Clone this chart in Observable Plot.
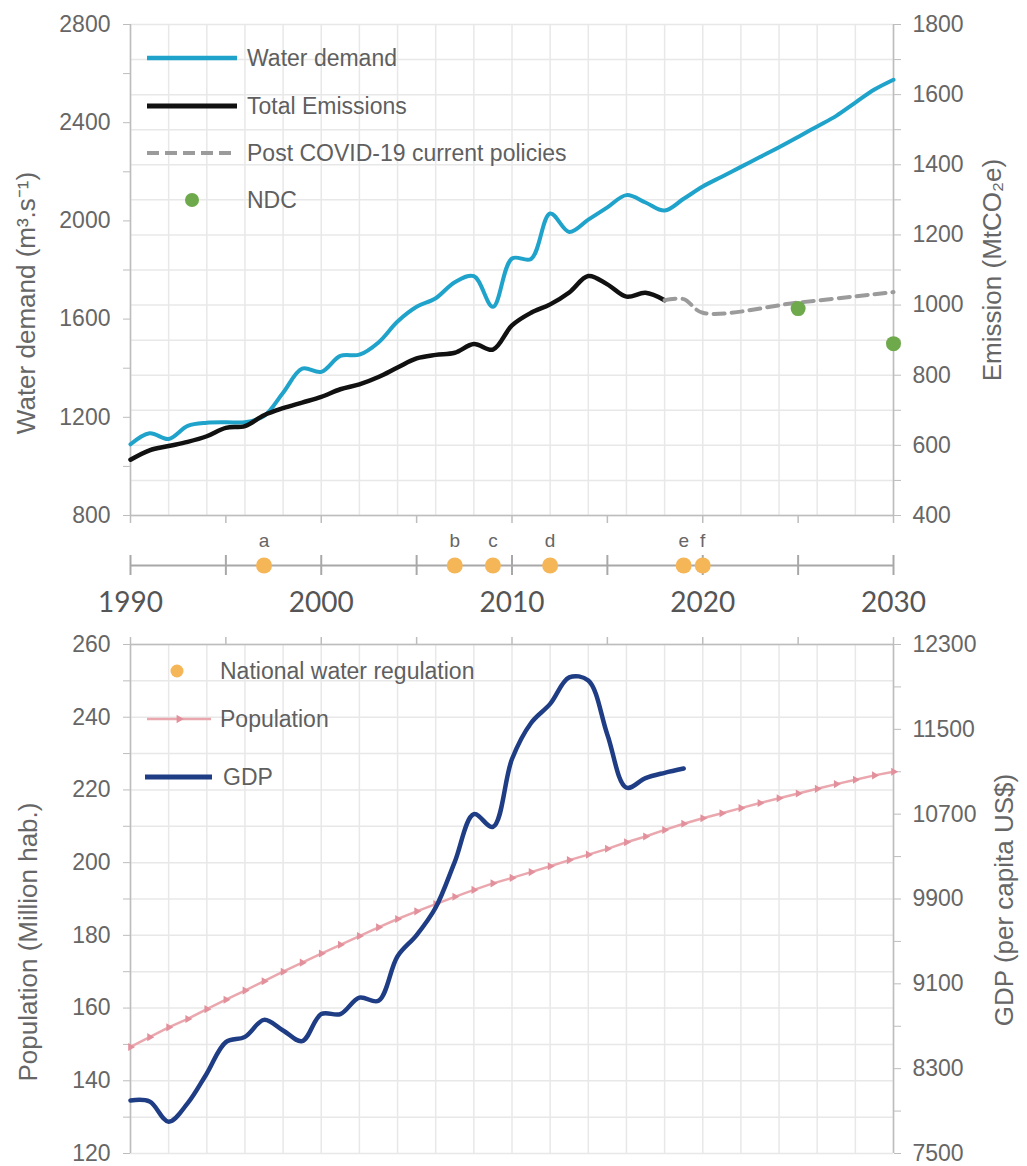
<!DOCTYPE html>
<html>
<head>
<meta charset="utf-8">
<title>Water demand, emissions, population and GDP, 1990–2030</title>
<script src="https://cdn.jsdelivr.net/npm/d3@7"></script>
<script src="https://cdn.jsdelivr.net/npm/@observablehq/plot@0.6"></script>
<style>
  html, body { margin: 0; background: #fff; }
  #chart { width: 1027px; height: 1166px; position: relative; overflow: hidden; }
  .panel { position: relative; }
  .panel > svg { display: block; }
  .panel > svg.legend { position: absolute; left: 0; top: 0; pointer-events: none; }
</style>
</head>
<body>
<div id="chart"></div>
<script>
// ---------- data ----------
const waterYears = d3.range(1990, 2031);
const waterDemand = [
  1090, 1135, 1112, 1165, 1178, 1180, 1180, 1205, 1300, 1398,
  1385, 1450, 1455, 1505, 1590, 1650, 1685, 1750, 1775, 1650,
  1847, 1845, 2030, 1955, 2005, 2055, 2105, 2075, 2042, 2090,
  2140, 2180, 2220, 2260, 2300, 2342, 2385, 2428, 2482, 2535, 2575
];

const emissionYears = d3.range(1990, 2019);
const totalEmissions = [
  559, 586, 598, 610, 626, 650, 655, 686, 706, 722,
  738, 760, 774, 795, 822, 848, 858, 864, 889, 873,
  942, 978, 1002, 1036, 1083, 1059, 1024, 1035, 1014
];

const policyYears = [2018, 2019, 2020, 2025, 2030];
const policyEmissions = [1014, 1017, 978, 1007, 1037];

const ndcYears = [2025, 2030];
const ndcEmissions = [990, 890];

const regulationYears = [1997, 2007, 2009, 2012, 2019, 2020];
const regulationLabels = ["a", "b", "c", "d", "e", "f"];

const populationYears = d3.range(1990, 2031);
const population = [
  149.3, 152.0, 154.7, 157.0, 159.7, 162.3, 164.8, 167.4, 170.0, 172.5,
  175.0, 177.4, 179.8, 182.2, 184.5, 186.6, 188.6, 190.6, 192.5, 194.3,
  195.8, 197.4, 199.0, 200.7, 202.2, 203.8, 205.6, 207.2, 209.0, 210.7,
  212.2, 213.6, 215.0, 216.4, 217.7, 219.0, 220.3, 221.6, 222.8, 224.0, 225.0
];

const gdpYears = d3.range(1990, 2020);
const gdpPerCapita = [
  8000, 7990, 7800, 7975, 8255, 8550, 8600, 8760, 8660, 8560,
  8815, 8815, 8970, 8940, 9360, 9560, 9820, 10250, 10700, 10580,
  11220, 11560, 11740, 11990, 11960, 11450, 10950, 11040, 11090, 11130
];

// axis ticks
const xDomain = [1990, 2030];
const waterDomain = [800, 2800];
const emissionDomain = [400, 1800];
const populationDomain = [120, 260];
const gdpDomain = [7500, 12300];
const waterTicks = d3.range(800, 2801, 200);
const emissionTicks = d3.range(400, 1801, 100);
const populationTicks = d3.range(120, 261, 10);
const gdpTicks = d3.range(7500, 12301, 400);
const fiveYearTicks = d3.range(1990, 2031, 5);
const gridYears = d3.range(1990, 2031, 2);
const decadeLabels = [1990, 2000, 2010, 2020, 2030];

// ---------- tables ----------
const water = waterYears.map((year, i) => ({year, value: waterDemand[i]}));
const emissions = emissionYears.map((year, i) => ({year, value: totalEmissions[i]}));
const policy = policyYears.map((year, i) => ({year, value: policyEmissions[i]}));
const ndc = ndcYears.map((year, i) => ({year, value: ndcEmissions[i]}));
const regulations = regulationYears.map((year, i) => ({year, label: regulationLabels[i]}));
const pop = populationYears.map((year, i) => ({year, value: population[i]}));
const gdp = gdpYears.map((year, i) => ({year, value: gdpPerCapita[i]}));

// secondary axes share the primary y scale through linear maps
const emissionToWater = d3.scaleLinear(emissionDomain, waterDomain);
const gdpToPopulation = d3.scaleLinear(gdpDomain, populationDomain);

// ---------- styling ----------
const W = 1027, ML = 130, MR = 134;
const FONT = '"Liberation Sans", Arial, Helvetica, sans-serif';
const GRID = "#e8e8e8", AXIS = "#bdbdbd", TEXT = "#666666", LEGEND_TEXT = "#5f5f5f";
const BLUE = "#1fa3cb", BLACK = "#111111", GRAY = "#9b9b9b", GREEN = "#6ea94c";
const ORANGE = "#f5b658", PINK = "#eaa7ae", PINK_MARK = "#e2919c", NAVY = "#1f3d85";
const TITLE_SIZE = 26;
const baseStyle = {fontFamily: FONT, fontSize: "23px", color: TEXT, background: "transparent", overflow: "visible"};

const chart = document.getElementById("chart");
function panel() {
  const div = document.createElement("div");
  div.className = "panel";
  chart.appendChild(div);
  return div;
}

function drawLegend(container, height, items) {
  const svg = d3.select(container).append("svg")
    .attr("class", "legend").attr("width", W).attr("height", height);
  for (const it of items) {
    const g = svg.append("g");
    if (it.kind === "line") {
      g.append("line")
        .attr("x1", it.x1).attr("x2", it.x2).attr("y1", it.y).attr("y2", it.y)
        .attr("stroke", it.color).attr("stroke-width", it.width)
        .attr("stroke-dasharray", it.dash || null);
      if (it.marker) {
        g.append("path")
          .attr("d", d3.symbol(d3.symbolTriangle, 30)())
          .attr("transform", `translate(${(it.x1 + it.x2) / 2},${it.y}) rotate(90)`)
          .attr("fill", it.marker);
      }
    } else {
      g.append("circle").attr("cx", it.cx).attr("cy", it.y).attr("r", it.r).attr("fill", it.color);
    }
    g.append("text")
      .attr("x", it.textX).attr("y", it.y).attr("dy", "0.36em")
      .attr("font-family", FONT).attr("font-size", 23).attr("fill", LEGEND_TEXT)
      .text(it.label);
  }
}

// ---------- upper panel: water demand & emissions ----------
const upper = panel();
upper.appendChild(Plot.plot({
  width: W, height: 525,
  marginLeft: ML, marginRight: MR, marginTop: 24, marginBottom: 10,
  style: baseStyle,
  x: {domain: xDomain, axis: null},
  y: {domain: waterDomain, axis: null},
  marks: [
    Plot.gridX(gridYears, {stroke: GRID, strokeOpacity: 1, strokeWidth: 1.5}),
    Plot.gridY(emissionTicks.map(emissionToWater), {stroke: GRID, strokeOpacity: 1, strokeWidth: 1.5}),
    Plot.ruleX(xDomain, {stroke: AXIS, strokeWidth: 1.5}),
    Plot.ruleY([waterDomain[0]], {stroke: AXIS, strokeWidth: 1.5}),
    Plot.axisX(fiveYearTicks, {anchor: "bottom", tickSize: 8, tickFormat: () => "", stroke: AXIS, strokeWidth: 1.5, label: null}),
    Plot.axisY(waterTicks, {
      anchor: "left", tickSize: 7, tickPadding: 13, stroke: AXIS, fill: TEXT, label: null,
      tickFormat: d => d % 400 === 0 ? String(d) : ""
    }),
    Plot.axisY(emissionTicks.map(emissionToWater), {
      anchor: "right", tickSize: 7, tickPadding: 12, stroke: AXIS, fill: TEXT, label: null,
      tickFormat: d => { const e = Math.round(emissionToWater.invert(d)); return e % 200 === 0 ? String(e) : ""; }
    }),
    Plot.text(["Water demand (m³.s⁻¹)"], {frameAnchor: "left", textAnchor: "middle", dx: -104, dy: 33, rotate: -90, fontSize: TITLE_SIZE, fill: TEXT}),
    Plot.text(["Emission (MtCO₂e)"], {frameAnchor: "right", textAnchor: "middle", dx: 99, dy: 0, rotate: -90, fontSize: TITLE_SIZE, fill: TEXT}),
    Plot.line(water, {x: "year", y: "value", stroke: BLUE, strokeWidth: 4, curve: "catmull-rom"}),
    Plot.line(emissions, {x: "year", y: d => emissionToWater(d.value), stroke: BLACK, strokeWidth: 4.5, curve: "catmull-rom"}),
    Plot.line(policy, {x: "year", y: d => emissionToWater(d.value), stroke: GRAY, strokeWidth: 4, strokeDasharray: "11,7", curve: "catmull-rom"}),
    Plot.dot(ndc, {x: "year", y: d => emissionToWater(d.value), r: 7.5, fill: GREEN})
  ]
}));
drawLegend(upper, 525, [
  {kind: "line", x1: 147, x2: 237, y: 58, color: BLUE, width: 4.5, textX: 247, label: "Water demand"},
  {kind: "line", x1: 147, x2: 237, y: 106, color: BLACK, width: 5, textX: 247, label: "Total Emissions"},
  {kind: "line", x1: 147, x2: 237, y: 153, color: GRAY, width: 4, dash: "12,6", textX: 247, label: "Post COVID-19 current policies"},
  {kind: "dot", cx: 192, y: 200, r: 7, color: GREEN, textX: 247, label: "NDC"}
]);

// ---------- timeline of national water regulations ----------
const timeline = panel();
timeline.appendChild(Plot.plot({
  width: W, height: 100,
  marginLeft: ML, marginRight: MR, marginTop: 30, marginBottom: 50,
  style: baseStyle,
  x: {domain: xDomain, axis: null},
  y: {domain: [0, 1], axis: null},
  marks: [
    Plot.ruleY([0.5], {x1: xDomain[0], x2: xDomain[1], stroke: "#a8a8a8", strokeWidth: 2}),
    Plot.tickX(fiveYearTicks, {x: d => d, stroke: "#a8a8a8", strokeWidth: 2}),
    Plot.dot(regulations, {x: "year", y: 0.5, r: 8, fill: ORANGE}),
    Plot.text(regulations, {x: "year", y: 1, dy: -15, text: "label", fontSize: 19, fill: TEXT}),
    Plot.text(decadeLabels, {x: d => d, y: 0, dy: 28, text: d => String(d), fontFamily: "Lato, 'Open Sans', sans-serif", fontSize: 28, fill: "#555"})
  ]
}));

// ---------- lower panel: population & GDP ----------
const lower = panel();
lower.appendChild(Plot.plot({
  width: W, height: 541,
  marginLeft: ML, marginRight: MR, marginTop: 19, marginBottom: 13,
  style: baseStyle,
  x: {domain: xDomain, axis: null},
  y: {domain: populationDomain, axis: null},
  marks: [
    Plot.gridX(gridYears, {stroke: GRID, strokeOpacity: 1, strokeWidth: 1.5}),
    Plot.gridY(populationTicks, {stroke: GRID, strokeOpacity: 1, strokeWidth: 1.5}),
    Plot.ruleX(xDomain, {stroke: AXIS, strokeWidth: 1.5}),
    Plot.ruleY([populationDomain[1]], {stroke: AXIS, strokeWidth: 1.5}),
    Plot.axisX(fiveYearTicks, {anchor: "top", tickSize: 8, tickFormat: () => "", stroke: AXIS, strokeWidth: 1.5, label: null}),
    Plot.axisY(populationTicks, {
      anchor: "left", tickSize: 7, tickPadding: 13, stroke: AXIS, fill: TEXT, label: null,
      tickFormat: d => d % 20 === 0 ? String(d) : ""
    }),
    Plot.axisY(gdpTicks.map(gdpToPopulation), {
      anchor: "right", tickSize: 7, tickPadding: 12, stroke: AXIS, fill: TEXT, label: null,
      tickFormat: d => { const g = Math.round(gdpToPopulation.invert(d)); return (g - gdpDomain[0]) % 800 === 0 ? String(g) : ""; }
    }),
    Plot.text(["Population (Million hab.)"], {frameAnchor: "left", textAnchor: "middle", dx: -102, dy: 43, rotate: -90, fontSize: TITLE_SIZE, fill: TEXT}),
    Plot.text(["GDP (per capita US$)"], {frameAnchor: "right", textAnchor: "middle", dx: 111, dy: 1, rotate: -90, fontSize: TITLE_SIZE, fill: TEXT}),
    Plot.line(pop, {x: "year", y: "value", stroke: PINK, strokeWidth: 2.5}),
    Plot.dot(pop, {x: "year", y: "value", symbol: "triangle", r: 3, rotate: 90, fill: PINK_MARK}),
    Plot.line(gdp, {x: "year", y: d => gdpToPopulation(d.value), stroke: NAVY, strokeWidth: 4.5, curve: "catmull-rom"})
  ]
}));
drawLegend(lower, 541, [
  {kind: "dot", cx: 177, y: 46, r: 6.5, color: ORANGE, textX: 220, label: "National water regulation"},
  {kind: "line", x1: 147, x2: 211, y: 94, color: PINK, width: 2.5, marker: PINK_MARK, textX: 220, label: "Population"},
  {kind: "line", x1: 145, x2: 212, y: 152, color: NAVY, width: 5, textX: 223, label: "GDP"}
]);
</script>
</body>
</html>
